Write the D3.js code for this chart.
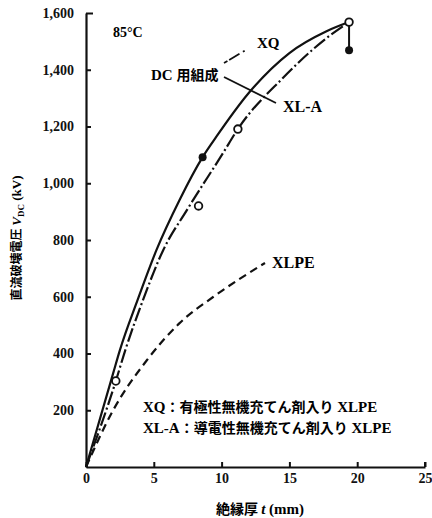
<!DOCTYPE html>
<html>
<head>
<meta charset="utf-8">
<script src="https://cdn.jsdelivr.net/npm/d3@7"></script>
<style>
  html, body { margin: 0; padding: 0; background: #fff; }
  svg { display: block; }
  .serif { font-family: "Liberation Serif", "DejaVu Serif", serif; font-weight: bold; }
  .jp { font-family: "Noto Sans CJK JP", sans-serif; font-weight: bold; }
</style>
</head>
<body>
<svg id="chart" width="432" height="518"></svg>
<script>
// Insulation thickness (mm) vs DC breakdown voltage (kV), 85°C
const xTicks = [0, 5, 10, 15, 20, 25];
const yTicks = [200, 400, 600, 800, 1000, 1200, 1400, 1600];

// XQ curve (solid)
const xqT = [0, 2.0, 2.5, 3.8, 5.2, 6.9, 8.6, 9.6, 12.0, 15.0, 17.7, 19.4];
const xqV = [0, 330, 412, 588, 765, 941, 1092, 1163, 1318, 1459, 1535, 1568];
// XL-A curve (dash-dot)
const xlaT = [0, 2.2, 2.9, 4.2, 5.7, 7.45, 10.1, 11.2, 14.5, 17.7, 19.4];
const xlaV = [0, 303, 412, 588, 765, 906, 1106, 1191, 1370, 1510, 1568];
// XLPE curve (dashed)
const xlpeT = [0, 2.0, 4.5, 6.9, 9.4, 13.2];
const xlpeV = [0, 200, 377, 507, 600, 719];

// Measured points
const xqPtT = [8.6, 19.4];
const xqPtV = [1092, 1469];
const xlaPtT = [2.2, 8.3, 11.2, 19.4];
const xlaPtV = [303, 920, 1191, 1568];

const svg = d3.select("#chart");
const x = d3.scaleLinear().domain([0, 25]).range([86, 425]);
const y = d3.scaleLinear().domain([0, 1600]).range([467, 13]);

// Axes
const xAxis = d3.axisBottom(x).tickValues(xTicks).tickSizeInner(-5).tickSizeOuter(0).tickPadding(6);
const yAxis = d3.axisLeft(y).tickValues(yTicks).tickFormat(d3.format(",")).tickSizeInner(-5).tickSizeOuter(0).tickPadding(12);

const gx = svg.append("g").attr("transform", `translate(0,${y(0)})`).call(xAxis);
const gy = svg.append("g").attr("transform", `translate(${x(0)},0)`).call(yAxis);
[gx, gy].forEach(g => {
  g.select(".domain").attr("stroke", "#111").attr("stroke-width", 2.2);
  g.selectAll(".tick line").attr("stroke", "#111").attr("stroke-width", 2);
  g.selectAll(".tick text").attr("class", "serif").attr("font-size", 14).attr("fill", "#111");
});
// right end tick on the x axis
svg.append("line").attr("x1", x(25)).attr("x2", x(25)).attr("y1", y(0)).attr("y2", y(0) - 5)
  .attr("stroke", "#111").attr("stroke-width", 2);
// top tick on the y axis
gy.selectAll(".tick").filter(d => d === 1600).select("line").attr("x2", 7);

const line = d3.line().x(d => x(d[0])).y(d => y(d[1])).curve(d3.curveMonotoneX);
const zip = (a, b) => a.map((v, i) => [v, b[i]]);

svg.append("path").datum(zip(xqT, xqV)).attr("d", line)
  .attr("fill", "none").attr("stroke", "#111").attr("stroke-width", 2.2);
svg.append("path").datum(zip(xlaT, xlaV)).attr("d", line)
  .attr("fill", "none").attr("stroke", "#111").attr("stroke-width", 2.2)
  .attr("stroke-dasharray", "14,3,2,3");
svg.append("path").datum(zip(xlpeT, xlpeV)).attr("d", line)
  .attr("fill", "none").attr("stroke", "#111").attr("stroke-width", 2.2)
  .attr("stroke-dasharray", "8,5");

// range bar at 20 mm
svg.append("line")
  .attr("x1", x(xqPtT[1])).attr("x2", x(xqPtT[1]))
  .attr("y1", y(xlaPtV[3])).attr("y2", y(xqPtV[1]))
  .attr("stroke", "#111").attr("stroke-width", 2);

svg.selectAll("circle.xla").data(zip(xlaPtT, xlaPtV)).join("circle")
  .attr("class", "xla").attr("cx", d => x(d[0])).attr("cy", d => y(d[1])).attr("r", 3.8)
  .attr("fill", "#fff").attr("stroke", "#111").attr("stroke-width", 1.8);
svg.selectAll("circle.xq").data(zip(xqPtT, xqPtV)).join("circle")
  .attr("class", "xq").attr("cx", d => x(d[0])).attr("cy", d => y(d[1])).attr("r", 4)
  .attr("fill", "#111");

// Annotations
svg.append("text").attr("class", "serif").attr("x", 113).attr("y", 37).attr("font-size", 14).text("85°C");
const dc = svg.append("text").attr("x", 151).attr("y", 80).attr("font-size", 15);
dc.append("tspan").attr("class", "serif").text("DC ");
dc.append("tspan").attr("class", "jp").attr("font-size", 14).text("用組成");
svg.append("line").attr("x1", 224).attr("y1", 63).attr("x2", 251).attr("y2", 47)
  .attr("stroke", "#111").attr("stroke-width", 1.8).attr("stroke-dasharray", "4,2,12");
svg.append("text").attr("class", "serif").attr("x", 257).attr("y", 48).attr("font-size", 15).text("XQ");
svg.append("line").attr("x1", 224).attr("y1", 77).attr("x2", 276).attr("y2", 103)
  .attr("stroke", "#111").attr("stroke-width", 1.8);
svg.append("text").attr("class", "serif").attr("x", 283).attr("y", 112).attr("font-size", 16).text("XL-A");
svg.append("text").attr("class", "serif").attr("x", 272).attr("y", 268).attr("font-size", 16).text("XLPE");

// Legend
const legend = [
  ["XQ", "：有極性無機充てん剤入り", " XLPE"],
  ["XL-A", "：導電性無機充てん剤入り", " XLPE"]
];
legend.forEach((row, i) => {
  const t = svg.append("text").attr("x", 143).attr("y", 412 + i * 21).attr("font-size", 15);
  t.append("tspan").attr("class", "serif").text(row[0]);
  t.append("tspan").attr("class", "jp").attr("font-size", 14).text(row[1]);
  t.append("tspan").attr("class", "serif").text(row[2]);
});

// Axis titles
const xt = svg.append("text").attr("x", 260).attr("y", 514).attr("text-anchor", "middle").attr("font-size", 15);
xt.append("tspan").attr("class", "jp").attr("font-size", 14).text("絶縁厚 ");
xt.append("tspan").attr("class", "serif").attr("font-style", "italic").text("t");
xt.append("tspan").attr("class", "serif").text(" (mm)");

const yt = svg.append("text").attr("transform", "translate(21,238) rotate(-90)")
  .attr("text-anchor", "middle").attr("font-size", 13);
yt.append("tspan").attr("class", "jp").attr("font-size", 12).text("直流破壊電圧 ");
yt.append("tspan").attr("class", "serif").attr("font-style", "italic").text("V");
yt.append("tspan").attr("class", "serif").attr("font-size", 9).attr("dy", 3).text("DC");
yt.append("tspan").attr("class", "serif").attr("dy", -3).text(" (kV)");
</script>
</body>
</html>
